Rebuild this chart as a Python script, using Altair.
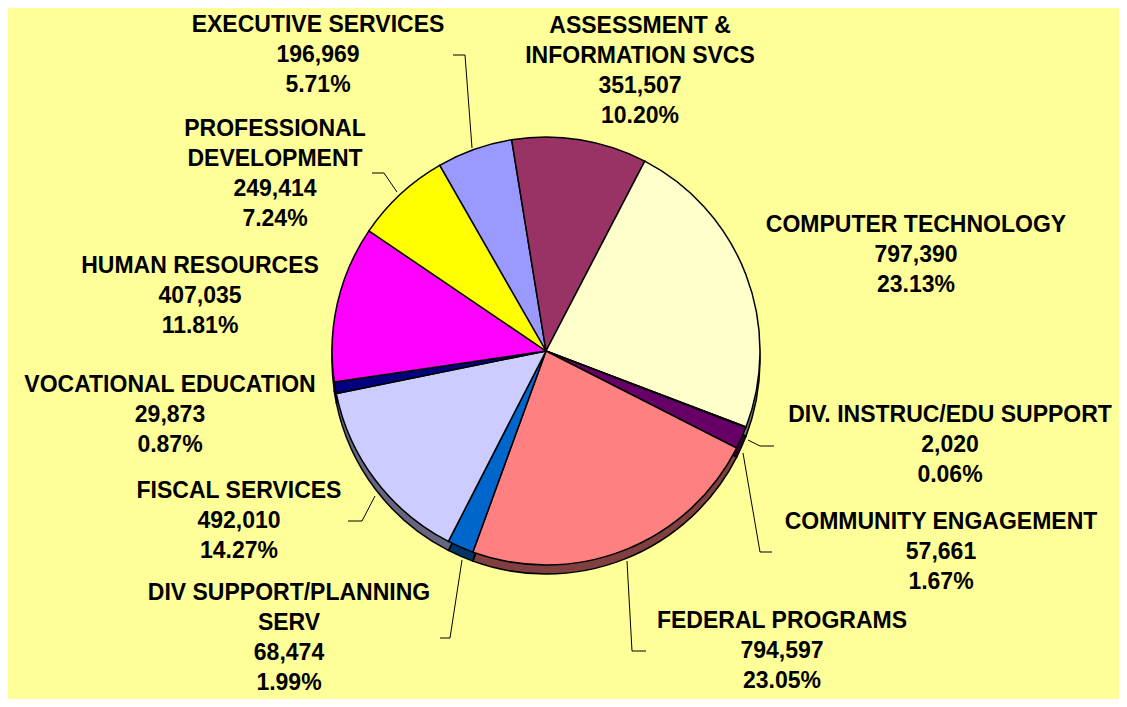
import math
import altair as alt
import pandas as pd

# ---- data ----
categories = [
    "EXECUTIVE SERVICES", "ASSESSMENT &\nINFORMATION SVCS", "COMPUTER TECHNOLOGY",
    "DIV. INSTRUC/EDU SUPPORT", "COMMUNITY ENGAGEMENT", "FEDERAL PROGRAMS",
    "DIV SUPPORT/PLANNING\nSERV", "FISCAL SERVICES", "VOCATIONAL EDUCATION",
    "HUMAN RESOURCES", "PROFESSIONAL\nDEVELOPMENT",
]
values = [196969, 351507, 797390, 2020, 57661, 794597, 68474, 492010, 29873, 407035, 249414]
percents = ["5.71%", "10.20%", "23.13%", "0.06%", "1.67%", "23.05%", "1.99%",
            "14.27%", "0.87%", "11.81%", "7.24%"]
face_colors = ["#9999FF", "#993366", "#FFFFCC", "#CCFFFF", "#660066", "#FF8080",
               "#0066CC", "#CCCCFF", "#000080", "#FF00FF", "#FFFF00"]
side_colors = ["#4D4D80", "#4D1A33", "#808066", "#668080", "#330033", "#804040",
               "#003366", "#666680", "#000040", "#800080", "#808000"]

# ---- layout ----
W, H = 1111, 691
CX, CY = 538, 343
R = 214
DEPTH = 9
START = math.radians(-29.8)
FONT = "Liberation Sans"
FS = 23
LH = 30

# label block centres, offsets from pie centre
label_off = [(-228, -296), (94, -280), (370, -96), (404, 94), (395, 201), (236, 300),
             (-257, 287), (-307, 170), (-376, 64), (-346, -55), (-271, -177)]
# leader lines (offsets from pie centre): edge point, elbow, end
leaders = {
    0: [(-74, -203), (-81, -296), (-93, -296)],
    10: [(-149, -159), (-162, -178), (-174, -178)],
    3: [(202, 89), (214, 95), (228, 95)],
    4: [(197, 102), (214, 201), (226, 201)],
    5: [(81, 210), (86, 300), (100, 300)],
    6: [(-84, 209), (-96, 287), (-106, 287)],
    7: [(-171, 145), (-184, 170), (-198, 170)],
}

def fmt(v):
    return f"{v:,}"

pie = pd.DataFrame({
    "cat": categories,
    "value": values,
    "order": list(range(len(values))),
    "face": face_colors,
    "side": side_colors,
})

texts = [f"{c}\n{fmt(v)}\n{p}" for c, v, p in zip(categories, values, percents)]
labels = pd.DataFrame({
    "text": texts,
    "x": [CX + dx for dx, dy in label_off],
    "y": [CY + dy - (t.count("\n")) * LH / 2 for t, (dx, dy) in zip(texts, label_off)],
})

rows = []
for k, pts in leaders.items():
    for i, (dx, dy) in enumerate(pts):
        rows.append({"id": k, "seq": i, "x": CX + dx, "y": CY + dy})
lines = pd.DataFrame(rows)

theta_scale = alt.Scale(range=[2 * math.pi + START, 4 * math.pi + START])

side = alt.Chart(pie).mark_arc(outerRadius=R, stroke="#000000", strokeWidth=1.5).encode(
    theta=alt.Theta("value:Q", stack=True, scale=theta_scale),
    order=alt.Order("order:Q"),
    color=alt.Color("side:N", scale=None),
    x=alt.value(CX),
    y=alt.value(CY + DEPTH),
)

face = alt.Chart(pie).mark_arc(outerRadius=R, stroke="#000000", strokeWidth=1.5).encode(
    theta=alt.Theta("value:Q", stack=True, scale=theta_scale),
    order=alt.Order("order:Q"),
    color=alt.Color("face:N", scale=None),
    x=alt.value(CX),
    y=alt.value(CY),
)

leader = alt.Chart(lines).mark_line(color="#000000", strokeWidth=1).encode(
    x=alt.X("x:Q", scale=None, axis=None),
    y=alt.Y("y:Q", scale=None, axis=None),
    detail="id:N",
    order="seq:Q",
)

text = alt.Chart(labels).mark_text(
    font=FONT, fontSize=FS, fontWeight="bold", color="#000000",
    align="center", baseline="middle", lineBreak="\n", lineHeight=LH,
).encode(
    x=alt.X("x:Q", scale=None, axis=None),
    y=alt.Y("y:Q", scale=None, axis=None),
    text="text:N",
)

chart = alt.layer(side, face, leader, text).properties(
    width=W, height=H,
    background="#FFFF99",
    padding=0,
    autosize=alt.AutoSizeParams(type="none"),
).configure_view(stroke=None)

chart.save("out.html", embed_options={"renderer": "svg", "actions": False})
